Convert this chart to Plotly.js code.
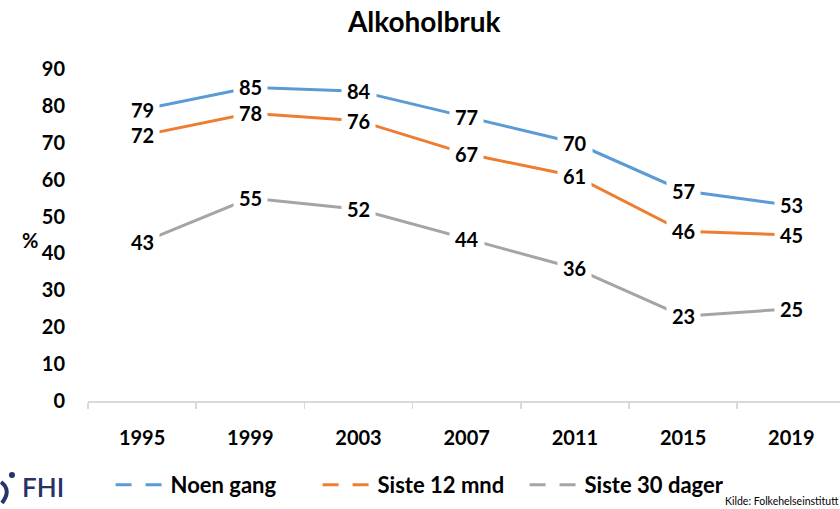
<!DOCTYPE html>
<html>
<head>
<meta charset="utf-8">
<script src="https://cdn.plot.ly/plotly-3.0.1.min.js"></script>
<style>html,body{margin:0;padding:0;background:#fff;}</style>
</head>
<body>
<div id="chart" style="width:840px;height:509px;"></div>
<script>
const years = ["1995", "1999", "2003", "2007", "2011", "2015", "2019"];
const noenGang = [79, 85, 84, 77, 70, 57, 53];
const siste12mnd = [72, 78, 76, 67, 61, 46, 45];
const siste30dager = [43, 55, 52, 44, 36, 23, 25];
const seriesNames = ["Noen gang", "Siste 12 mnd", "Siste 30 dager"];
const yTicks = [0, 10, 20, 30, 40, 50, 60, 70, 80, 90];

const colors = ["#5B9BD5", "#ED7D31", "#A5A5A5"];
const seriesValues = [noenGang, siste12mnd, siste30dager];
const FONT = "Lato, 'Open Sans', sans-serif";

const traces = [];
seriesValues.forEach((vals, i) => {
  traces.push({
    x: years, y: vals, type: "scatter", mode: "lines",
    line: {color: colors[i], width: 3},
    showlegend: false, hoverinfo: "skip"
  });
});
// legend entries (dashed symbols)
seriesValues.forEach((vals, i) => {
  traces.push({
    x: [null], y: [null], type: "scatter", mode: "lines",
    name: seriesNames[i],
    line: {color: colors[i], width: 3, dash: "16px,14px"},
    showlegend: true
  });
});

const annotations = [];
seriesValues.forEach((vals, i) => {
  vals.forEach((v, j) => {
    // category axis: position by category index of years[j]
    annotations.push({
      x: years.indexOf(years[j]), y: v, xref: "x", yref: "y",
      text: "<b>" + v + "</b>", showarrow: false,
      bgcolor: "#ffffff", borderpad: 5,
      font: {family: FONT, size: 20, color: "#000000"}
    });
  });
});
annotations.push({
  xref: "paper", yref: "paper", x: -0.0904, y: 0.485,
  text: "<b>%</b>", showarrow: false,
  font: {family: FONT, size: 20, color: "#000"}
});
annotations.push({
  xref: "paper", yref: "paper", x: 0.846, y: -0.3215, xanchor: "left", yanchor: "bottom",
  text: "Kilde: Folkehelseinstitutt", showarrow: false, borderpad: 0,
  font: {family: FONT, size: 10.5, color: "#000"}
});
annotations.push({
  xref: "paper", yref: "paper", x: -0.091, y: -0.26, xanchor: "left", yanchor: "middle",
  text: "FHI", showarrow: false,
  font: {family: FONT, size: 26, color: "#27336b", weight: 600}
});

const layout = {
  width: 840, height: 509,
  margin: {l: 88, r: 0, t: 69, b: 108, pad: 0},
  paper_bgcolor: "#ffffff", plot_bgcolor: "#ffffff",
  title: {
    text: "<b>Alkoholbruk</b>",
    x: 0.505, xref: "container", xanchor: "center",
    y: 0.957, yref: "container", yanchor: "middle",
    font: {family: FONT, size: 28, color: "#000"}
  },
  xaxis: {
    type: "category", range: [-0.5, 6.45],
    showgrid: false, zeroline: false,
    showline: true, linecolor: "#d9d9d9", linewidth: 1.5,
    ticks: "outside", tickson: "boundaries", ticklen: 6, tickcolor: "#d9d9d9", tickwidth: 1.5,
    ticklabelstandoff: 18,
    tickfont: {family: FONT, size: 20, color: "#000", weight: "bold"},
    fixedrange: true
  },
  yaxis: {
    range: [0, 90], tickvals: yTicks, ticktext: yTicks.map(String),
    showgrid: false, zeroline: false, showline: false, ticks: "",
    ticklabelstandoff: 22,
    tickfont: {family: FONT, size: 20, color: "#000", weight: "bold"},
    fixedrange: true
  },
  legend: {
    orientation: "h", x: 0.03, xanchor: "left", y: -0.253, yanchor: "middle",
    font: {family: FONT, size: 22, color: "#000", weight: "bold"},
    itemwidth: 50, bgcolor: "rgba(0,0,0,0)",
    entrywidth: 142, entrywidthmode: "pixels"
  },
  shapes: [
    {type: "circle", xref: "paper", yref: "paper", x0: -0.1051, x1: -0.0971, y0: -0.2319, y1: -0.2139,
     fillcolor: "#27336b", line: {width: 0}},
    {type: "path", xref: "paper", yref: "paper",
     path: "M -0.1157 -0.244 Q -0.1011 -0.268 -0.1144 -0.307",
     line: {color: "#27336b", width: 4}}
  ],
  annotations: annotations,
  showlegend: true
};

Plotly.newPlot("chart", traces, layout, {displayModeBar: false, staticPlot: true});
</script>
</body>
</html>
